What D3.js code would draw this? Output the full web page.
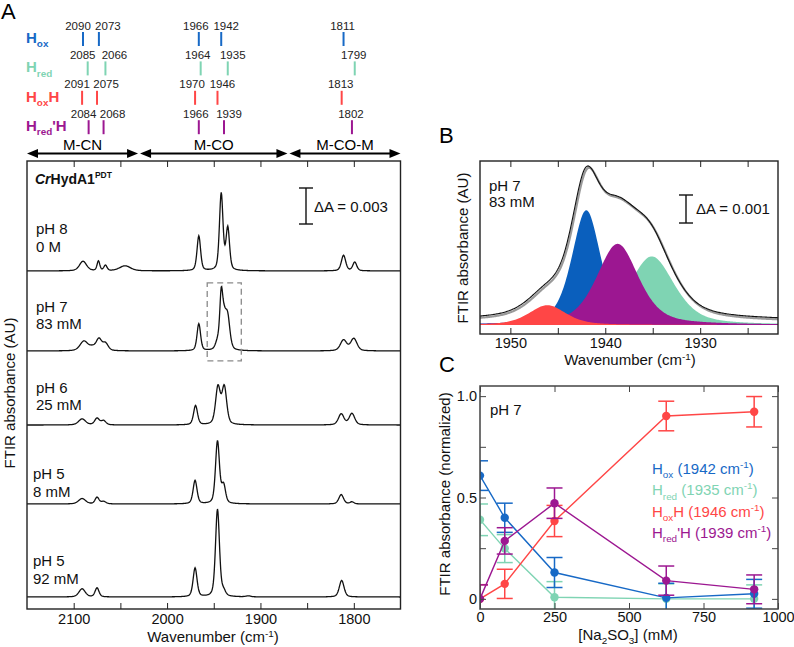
<!DOCTYPE html>
<html><head><meta charset="utf-8">
<script src="https://cdn.jsdelivr.net/npm/d3@7"></script>
<style>body{margin:0;background:#fff}svg{font-family:"Liberation Sans",Arial,Helvetica,sans-serif}</style>
</head><body><svg id="chart" width="794" height="647"></svg>
<script>
// ================= DATA =================
// Panel A – band assignments (cm-1)
const speciesSub  = ["ox","red","ox","red"];
const speciesTail = ["","","H","'H"];
const bandsHox   = [2090, 2073, 1966, 1942, 1811];
const bandsHred  = [2085, 2066, 1964, 1935, 1799];
const bandsHoxH  = [2091, 2075, 1970, 1946, 1813];
const bandsHredH = [2084, 2068, 1966, 1939, 1802];
const regionNames  = ["M-CN","M-CO","M-CO-M"];
const regionBounds = [2150, 2030, 1870, 1750];
const ticksA = [2100, 2000, 1900, 1800];
// Panel A – spectra, peaks as [centre cm-1, height mOD, FWHM cm-1]
const spectrumLabels = [["pH 8","0 M"],["pH 7","83 mM"],["pH 6","25 mM"],["pH 5","8 mM"],["pH 5","92 mM"]];
const peaks_pH8_0M  = [[2090,0.8,9],[2073.5,0.8,3.5],[2066,0.45,4],[2045,0.42,14],[1966,2.9,4.5],[1942,6.4,4.5],[1935,3.5,4.5],[1811,1.3,5.5],[1799,0.72,5]];
const peaks_pH7_83  = [[2089,0.8,10],[2080,0.25,8],[2073,0.95,7],[2066,0.6,7],[1966,2.25,4.5],[1946,0.6,5],[1942,4.0,3.8],[1939,2.3,5.5],[1935,2.5,5.6],[1811,0.9,8],[1800,1.02,8]];
const peaks_pH6_25  = [[2091,0.5,9],[2075,0.55,6],[2068,0.35,6],[1969.5,1.6,5],[1945.5,3.1,6],[1938.7,3.1,6],[1813.5,0.92,7],[1802,0.95,7]];
const peaks_pH5_8   = [[2091,0.45,9],[2075,0.55,5],[2068,0.2,6],[1970,1.95,5],[1946,5.2,5],[1939.5,1.5,5],[1813.5,0.78,6],[1802,0.17,5]];
const peaks_pH5_92  = [[2091,0.68,8],[2075,0.75,5],[1970,2.4,5],[1946,7.3,5],[1939.5,0.4,5],[1913,0.08,6],[1813,1.38,6]];
const scaleBarA = 3; // mOD  (ΔA = 0.003)
// Panel B – fitted components (pH 7, 83 mM)
const fitNames   = ["Hred","Hox","HredH","HoxH"];
const fitCenters = [1935.1, 1942.0, 1938.7, 1946.1];
const fitHeights = [2.45, 4.1, 2.9, 0.71];
const fitWidths  = [5.6, 3.6, 5.2, 4.6];
const ticksB = [1950, 1940, 1930];
const scaleBarB = 1; // mOD (ΔA = 0.001)
// Panel C – normalised absorbance vs [Na2SO3]
const conc     = [0, 83, 250, 625, 920];
const cHox     = [0.608, 0.40, 0.13, 0.005, 0.025];
const eHox     = [0.073, 0.072, 0.074, 0.072, 0.071];
const cHred    = [0.39, 0.248, 0.008, 0.0, 0.0];
const eHred    = [0.078, 0.069, 0.077, 0.074, 0.069];
const cHoxH    = [0.0, 0.074, 0.384, 0.902, 0.923];
const eHoxH    = [0.07, 0.072, 0.077, 0.073, 0.075];
const cHredH   = [0.0, 0.286, 0.472, 0.09, 0.047];
const eHredH   = [0.069, 0.065, 0.075, 0.072, 0.071];
const legendBands = [1942, 1935, 1946, 1939];
const ticksCx = [0, 250, 500, 750, 1000];
const ticksCy = [0, 0.5, 1.0];

// ================= STYLE =================
const COL = {ox:"#1769c6", red:"#7fd4b3", oxH:"#ff4646", redH:"#9c1791"};
const rowColors = [COL.ox, COL.red, COL.oxH, COL.redH];
const svg = d3.select("#chart");
const lineshape = (x,c,h,w,eta)=>{const d=(x-c)/(w/2);return h*((1-eta)*Math.exp(-Math.LN2*d*d)+eta/(1+d*d));};

function rich(sel, segs, size, supShift){
  let cur=0;
  segs.forEach(s=>{
    if(!s.t) return;
    const fs = (s.sub||s.sup)? size*0.66 : size;
    const target = s.sub? size*0.28 : (s.sup? -size*(supShift||0.4) : 0);
    const ts = sel.append("tspan").attr("font-size",fs).text(s.t);
    if(target!==cur){ ts.attr("dy", target-cur); cur=target; }
  });
  return sel;
}

// ================= PANEL A =================
const xA = d3.scaleLinear().domain([2150,1750]).range([27,400.5]);
const yA = d3.scaleLinear().domain([0,37.33]).range([609,161]);

svg.append("text").attr("x",1).attr("y",19).attr("font-size",22).text("A");

// band assignment rows
const bandRows = [bandsHox, bandsHred, bandsHoxH, bandsHredH];
const nudge = [-5, 9, -3, 5, -1];
bandRows.forEach((bands,i)=>{
  const by = 29.5 + 29.4*i;
  const g = svg.append("g");
  const lab = g.append("text").attr("x",26).attr("y",by+13.5).attr("font-size",15).attr("font-weight","bold").attr("fill",rowColors[i]);
  rich(lab,[{t:"H"},{t:speciesSub[i],sub:true},{t:speciesTail[i]}],15);
  bands.forEach((b,j)=>{
    g.append("line").attr("x1",xA(b)).attr("x2",xA(b)).attr("y1",by+2.5).attr("y2",by+16.5)
      .attr("stroke",rowColors[i]).attr("stroke-width",2);
    g.append("text").attr("x",xA(b)+nudge[j]).attr("y",by).attr("font-size",11.5).attr("text-anchor","middle").attr("fill","#222").text(b);
  });
});
// region arrows
regionNames.forEach((n,i)=>{
  const x0 = xA(regionBounds[i])+ (i===0?0:1), x1 = xA(regionBounds[i+1]) - (i===2?0:1), y=153.5;
  const g = svg.append("g");
  g.append("line").attr("x1",x0+6).attr("x2",x1-6).attr("y1",y).attr("y2",y).attr("stroke","#000").attr("stroke-width",2);
  g.append("path").attr("d",`M${x0},${y}L${x0+11},${y-4.5}L${x0+11},${y+4.5}Z`).attr("fill","#000");
  g.append("path").attr("d",`M${x1},${y}L${x1-11},${y-4.5}L${x1-11},${y+4.5}Z`).attr("fill","#000");
  g.append("text").attr("x",(x0+x1)/2).attr("y",150).attr("text-anchor","middle").attr("font-size",15).text(n);
});

// axes A
const axA = svg.append("g");
axA.append("g").attr("transform","translate(0,609)")
  .call(d3.axisBottom(xA).tickValues(d3.range(2100,1799,-50)).tickSize(-6).tickSizeOuter(0).tickPadding(5)
  .tickFormat(d=> ticksA.includes(d)? d : ""))
  .call(g=>{g.select(".domain").remove(); g.selectAll("text").attr("font-size",14.5).attr("fill","#111"); g.selectAll("line").attr("stroke","#222");});
axA.append("g").attr("transform","translate(0,161)")
  .call(d3.axisTop(xA).tickValues(d3.range(2100,1799,-50)).tickSize(-6).tickSizeOuter(0).tickFormat(""))
  .call(g=>{g.select(".domain").remove(); g.selectAll("line").attr("stroke","#222");});

svg.append("clipPath").attr("id","clipA").append("rect").attr("x",27).attr("y",161).attr("width",373.5).attr("height",448);
const spectra = [peaks_pH8_0M, peaks_pH7_83, peaks_pH6_25, peaks_pH5_8, peaks_pH5_92];
const traceBase = [28.17, 21.5, 15.33, 8.75, 1.0];
const grid = d3.range(2150, 1749.9, -0.5);
const lineA = d3.line().x(d=>xA(d[0])).y(d=>yA(d[1]));
const gA = svg.append("g").attr("clip-path","url(#clipA)");
spectra.forEach((pk,i)=>{
  const pts = grid.map(w=>[w, traceBase[i] + d3.sum(pk, p=>lineshape(w,p[0],p[1],p[2],0.4))]);
  gA.append("path").attr("d",lineA(pts)).attr("fill","none").attr("stroke","#111").attr("stroke-width",1.3);
});
const labelLift = [19, 21.5, 15, 7, 13];
spectrumLabels.forEach((l,i)=>{
  const yb = yA(traceBase[i]) - labelLift[i];
  const x = i>=3 ? 33 : 36;
  svg.append("text").attr("x",x).attr("y",yb-17.5).attr("font-size",15).attr("fill","#111").text(l[0]);
  svg.append("text").attr("x",x).attr("y",yb).attr("font-size",15).attr("fill","#111").text(l[1]);
});
// dashed box (region of panel B)
svg.append("rect").attr("x",xA(1957)).attr("y",yA(traceBase[1]+5.67))
  .attr("width",xA(1920.5)-xA(1957)).attr("height",yA(traceBase[1]-0.83)-yA(traceBase[1]+5.67))
  .attr("fill","none").attr("stroke","#8a8a8a").attr("stroke-width",1.3).attr("stroke-dasharray","6,4");
// sample name
const tA = svg.append("text").attr("x",35).attr("y",183.5).attr("font-size",14).attr("font-weight","bold").attr("fill","#111");
tA.append("tspan").attr("font-style","italic").text("Cr");
tA.append("tspan").text("HydA1");
tA.append("tspan").attr("font-size",8.5).attr("dy",-6).text("PDT");
// scale bar A
{
  const x=306, y0=188, y1=y0 + (yA(0)-yA(scaleBarA));
  const g=svg.append("g").attr("stroke","#111").attr("stroke-width",1.4);
  g.append("line").attr("x1",x).attr("x2",x).attr("y1",y0).attr("y2",y1);
  g.append("line").attr("x1",x-7).attr("x2",x+7).attr("y1",y0).attr("y2",y0);
  g.append("line").attr("x1",x-7).attr("x2",x+7).attr("y1",y1).attr("y2",y1);
  svg.append("text").attr("x",314).attr("y",211.5).attr("font-size",15).attr("fill","#111").text("ΔA = 0.003");
}
svg.append("rect").attr("x",27).attr("y",161).attr("width",373.5).attr("height",448).attr("fill","none").attr("stroke","#222").attr("stroke-width",1.4);
rich(svg.append("text").attr("x",213).attr("y",642).attr("text-anchor","middle").attr("font-size",15).attr("fill","#111"),
  [{t:"Wavenumber (cm"},{t:"-1",sup:true},{t:")"}],15,0.33);
svg.append("text").attr("transform","translate(10,393) rotate(-90)").attr("dy","0.35em").attr("text-anchor","middle").attr("font-size",15).attr("fill","#111").text("FTIR absorbance (AU)");

// ================= PANEL B =================
const xB = d3.scaleLinear().domain([1953.2,1921.8]).range([480,778]);
const yB = d3.scaleLinear().domain([-0.32,5.857]).range([334,161]);
svg.append("text").attr("x",439).attr("y",143).attr("font-size",22).text("B");
svg.append("clipPath").attr("id","clipB").append("rect").attr("x",480).attr("y",161).attr("width",298).attr("height",173);
const gB = svg.append("g").attr("clip-path","url(#clipB)");
const gridB = d3.range(1955, 1919.9, -0.1);
const fitCol = [COL.red, "#0a5fbd", COL.redH, COL.oxH];
const areaB = d3.area().x(d=>xB(d[0])).y0(yB(0)).y1(d=>yB(d[1]));
fitCenters.forEach((c,i)=>{
  const pts = gridB.map(w=>[w, lineshape(w,c,fitHeights[i],fitWidths[i],0.5)]);
  gB.append("path").attr("d",areaB(pts)).attr("fill",fitCol[i]);
});
const sumB = gridB.map(w=>[w, d3.sum(fitCenters,(c,i)=>lineshape(w,c,fitHeights[i],fitWidths[i],0.5))]);
const lineB = d3.line().x(d=>xB(d[0])).y(d=>yB(d[1]));
gB.append("path").attr("d",lineB(sumB.map(d=>[d[0],d[1]+0.1]))).attr("fill","none").attr("stroke","#9a9a9a").attr("stroke-width",2.2);
gB.append("path").attr("d",lineB(sumB.map(d=>[d[0]+0.12,d[1]+0.16]))).attr("fill","none").attr("stroke","#111").attr("stroke-width",1.1);
svg.append("g").attr("transform","translate(0,334)")
  .call(d3.axisBottom(xB).tickValues(d3.range(1950,1921,-5)).tickSize(-6).tickSizeOuter(0).tickPadding(4)
  .tickFormat(d=> ticksB.includes(d)? d : ""))
  .call(g=>{g.select(".domain").remove(); g.selectAll("text").attr("font-size",14.5).attr("fill","#111"); g.selectAll("line").attr("stroke","#222");});
svg.append("g").attr("transform","translate(0,161)")
  .call(d3.axisTop(xB).tickValues(d3.range(1950,1921,-5)).tickSize(-6).tickSizeOuter(0).tickFormat(""))
  .call(g=>{g.select(".domain").remove(); g.selectAll("line").attr("stroke","#222");});
svg.append("rect").attr("x",480).attr("y",161).attr("width",298).attr("height",173).attr("fill","none").attr("stroke","#222").attr("stroke-width",1.4);
svg.append("text").attr("x",489).attr("y",190.7).attr("font-size",15).attr("fill","#111").text("pH 7");
svg.append("text").attr("x",489).attr("y",206.5).attr("font-size",15).attr("fill","#111").text("83 mM");
{
  const x=686, y0=195, y1=y0 + (yB(0)-yB(scaleBarB));
  const g=svg.append("g").attr("stroke","#111").attr("stroke-width",1.4);
  g.append("line").attr("x1",x).attr("x2",x).attr("y1",y0).attr("y2",y1);
  g.append("line").attr("x1",x-7).attr("x2",x+7).attr("y1",y0).attr("y2",y0);
  g.append("line").attr("x1",x-7).attr("x2",x+7).attr("y1",y1).attr("y2",y1);
  svg.append("text").attr("x",696).attr("y",214).attr("font-size",15).attr("fill","#111").text("ΔA = 0.001");
}
rich(svg.append("text").attr("x",630).attr("y",365).attr("text-anchor","middle").attr("font-size",15).attr("fill","#111"),
  [{t:"Wavenumber (cm"},{t:"-1",sup:true},{t:")"}],15,0.33);
svg.append("text").attr("transform","translate(463,248) rotate(-90)").attr("dy","0.35em").attr("text-anchor","middle").attr("font-size",15).attr("fill","#111").text("FTIR absorbance (AU)");

// ================= PANEL C =================
const xC = d3.scaleLinear().domain([0,1000]).range([480,778]);
const yC = d3.scaleLinear().domain([-0.05,1.05]).range([609,386]);
svg.append("text").attr("x",439).attr("y",372).attr("font-size",22).text("C");
svg.append("clipPath").attr("id","clipC").append("rect").attr("x",480).attr("y",386).attr("width",298).attr("height",223);
const gC = svg.append("g").attr("clip-path","url(#clipC)");
const seriesC = [
  {v:cHred, e:eHred, c:COL.red},
  {v:cHox, e:eHox, c:COL.ox},
  {v:cHoxH, e:eHoxH, c:COL.oxH},
  {v:cHredH, e:eHredH, c:COL.redH}
];
const lineC = d3.line().x(d=>xC(d[0])).y(d=>yC(d[1]));
seriesC.forEach(s=>{
  const g=gC.append("g");
  const pts = conc.map((x,i)=>[x,s.v[i]]);
  g.append("path").attr("d",lineC(pts)).attr("fill","none").attr("stroke",s.c).attr("stroke-width",1.4);
  conc.forEach((x,i)=>{
    const cx=xC(x), ya=yC(s.v[i]+s.e[i]), yb=yC(s.v[i]-s.e[i]);
    g.append("line").attr("x1",cx).attr("x2",cx).attr("y1",ya).attr("y2",yb).attr("stroke",s.c).attr("stroke-width",1.5);
    g.append("line").attr("x1",cx-8).attr("x2",cx+8).attr("y1",ya).attr("y2",ya).attr("stroke",s.c).attr("stroke-width",1.5);
    g.append("line").attr("x1",cx-8).attr("x2",cx+8).attr("y1",yb).attr("y2",yb).attr("stroke",s.c).attr("stroke-width",1.5);
    g.append("circle").attr("cx",cx).attr("cy",yC(s.v[i])).attr("r",4.2).attr("fill",s.c);
  });
});
const styleAx = g=>{g.select(".domain").remove(); g.selectAll("text").attr("font-size",14.5).attr("fill","#111"); g.selectAll("line").attr("stroke","#444");};
svg.append("g").attr("transform","translate(0,609)").call(d3.axisBottom(xC).tickValues(ticksCx).tickSize(-6).tickSizeOuter(0).tickPadding(3).tickFormat(d3.format("d"))).call(styleAx);
svg.append("g").attr("transform","translate(0,386)").call(d3.axisTop(xC).tickValues(ticksCx).tickSize(-6).tickSizeOuter(0).tickFormat("")).call(styleAx);
svg.append("g").attr("transform","translate(480,0)").call(d3.axisLeft(yC).tickValues([0,0.25,0.5,0.75,1.0]).tickSize(-6).tickSizeOuter(0).tickPadding(3)
  .tickFormat(d=> ticksCy.includes(d)? (d===0?"0":d3.format(".1f")(d)) : "")).call(styleAx);
svg.append("g").attr("transform","translate(778,0)").call(d3.axisRight(yC).tickValues([0,0.25,0.5,0.75,1.0]).tickSize(-6).tickSizeOuter(0).tickFormat("")).call(styleAx);
svg.append("rect").attr("x",480).attr("y",386).attr("width",298).attr("height",223).attr("fill","none").attr("stroke","#444").attr("stroke-width",1.5);
svg.append("text").attr("x",490).attr("y",415).attr("font-size",15).attr("fill","#111").text("pH 7");
const legCol = [COL.ox, COL.red, COL.oxH, COL.redH];
legendBands.forEach((b,i)=>{
  const t = svg.append("text").attr("x",652).attr("y",474+21.4*i).attr("font-size",15).attr("fill",legCol[i]);
  rich(t,[{t:"H"},{t:speciesSub[i],sub:true},{t:speciesTail[i]+" ("+b+" cm"},{t:"-1",sup:true},{t:")"}],15);
});
rich(svg.append("text").attr("x",628).attr("y",640).attr("text-anchor","middle").attr("font-size",15).attr("fill","#111"),
  [{t:"[Na"},{t:"2",sub:true},{t:"SO"},{t:"3",sub:true},{t:"] (mM)"}],15);
svg.append("text").attr("transform","translate(445,494) rotate(-90)").attr("dy","0.35em").attr("text-anchor","middle").attr("font-size",15).attr("fill","#111").text("FTIR absorbance (normalized)");
</script></body></html>
